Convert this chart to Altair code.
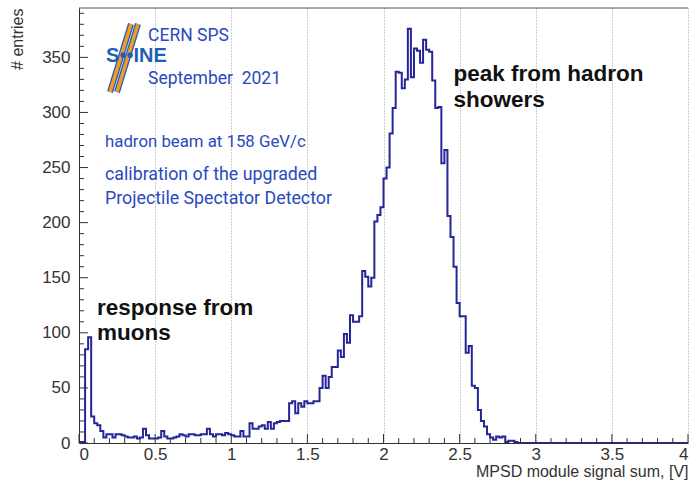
import altair as alt
import pandas as pd

# MPSD module signal sum histogram: 0.02 V bins from 0 to 4 V
bin_width = 0.02
counts = [
    1, 1, 85, 96, 24, 18, 16, 11, 5, 8,
    8, 5, 8, 8, 7, 6, 5, 5, 6, 4,
    5, 13, 7, 4, 4, 4, 5, 11, 6, 4,
    4, 5, 6, 8, 7, 6, 8, 8, 7, 7,
    8, 8, 13, 8, 6, 8, 8, 7, 9, 8,
    7, 6, 6, 11, 6, 6, 18, 13, 13, 15,
    16, 13, 19, 13, 18, 19, 20, 20, 20, 36,
    38, 27, 36, 33, 38, 36, 36, 38, 38, 50,
    61, 50, 60, 69, 69, 84, 78, 99, 91, 116,
    110, 110, 115, 156, 151, 142, 150, 201, 207, 214,
    240, 250, 281, 304, 337, 336, 322, 330, 376, 332,
    358, 356, 345, 366, 357, 355, 329, 304, 305, 254,
    266, 206, 187, 160, 127, 115, 115, 82, 88, 52,
    50, 30, 20, 15, 8, 5, 3, 6, 5, 6,
    1, 2, 2, 1, 0, 0, 0, 0, 0, 0,
    0, 0, 0, 0, 0, 0, 0, 0, 0, 0,
    0, 0, 0, 0, 0, 0, 0, 0, 0, 0,
    0, 0, 0, 0, 0, 0, 0, 0, 0, 0,
    0, 0, 0, 0, 0, 0, 0, 0, 0, 0,
    0, 0, 0, 0, 0, 0, 0, 0, 0, 0,
]

x_major = [0, 0.5, 1, 1.5, 2, 2.5, 3, 3.5, 4]
x_minor = [0.1, 0.2, 0.3, 0.4, 0.6, 0.7, 0.8, 0.9, 1.1, 1.2, 1.3, 1.4,
           1.6, 1.7, 1.8, 1.9, 2.1, 2.2, 2.3, 2.4, 2.6, 2.7, 2.8, 2.9,
           3.1, 3.2, 3.3, 3.4, 3.6, 3.7, 3.8, 3.9]
y_major = [0, 50, 100, 150, 200, 250, 300, 350]
y_minor = [10, 20, 30, 40, 60, 70, 80, 90, 110, 120, 130, 140, 160, 170,
           180, 190, 210, 220, 230, 240, 260, 270, 280, 290, 310, 320, 330,
           340, 360, 370, 380, 390]

W, H = 609, 435
X_MAX = 4.0
Y_MAX = 1.05 * max(counts)

xs = alt.Scale(domain=[0, X_MAX], nice=False, zero=False)
ys = alt.Scale(domain=[0, Y_MAX], nice=False, zero=False)

edges = [i * bin_width for i in range(len(counts) + 1)]
hist_df = pd.DataFrame({"x": edges, "n": counts + [counts[-1]]})

AXIS_FONT = "Liberation Sans"
BLUE_TEXT = "#2a49c0"
LOGO_BLUE = "#1f5fb5"
LOGO_ORANGE = "#f29b28"

base = alt.Chart(hist_df)

hist = base.mark_line(
    interpolate="step-after", color="#25259a", strokeWidth=2, clip=True
).encode(
    x=alt.X(
        "x:Q", scale=xs,
        axis=alt.Axis(
            values=x_major, format="~g", grid=True, gridColor="#9a9a9a",
            gridDash=[1, 2], gridWidth=1, ticks=False, domainColor="#333",
            labelFont=AXIS_FONT, labelFontSize=17, labelColor="#333",
            labelPadding=3, title="MPSD module signal sum, [V]",
            titleFont=AXIS_FONT, titleFontSize=16, titleFontWeight="normal",
            titleColor="#333", titleAnchor="end", titleAlign="right",
            titleX=W, titleY=33, titleBaseline="alphabetic",
        ),
    ),
    y=alt.Y(
        "n:Q", scale=ys,
        axis=alt.Axis(
            values=y_major, grid=False, ticks=False, domainColor="#333",
            labelFont=AXIS_FONT, labelFontSize=17, labelColor="#333",
            labelPadding=9, title="# entries", titleFont=AXIS_FONT,
            titleFontSize=16, titleFontWeight="normal", titleColor="#333",
            titleAnchor="end", titleAngle=-90, titleAlign="right",
            titleX=-57, titleY=0, titleBaseline="alphabetic",
        ),
    ),
)

# inward-pointing ROOT-style ticks
def x_ticks(vals, length):
    df = pd.DataFrame({"x": vals})
    return alt.Chart(df).mark_rule(color="#333", strokeWidth=1).encode(
        x=alt.X("x:Q", scale=xs), y=alt.value(H), y2=alt.value(H - length)
    )

def y_ticks(vals, length):
    df = pd.DataFrame({"y": vals})
    return alt.Chart(df).mark_rule(color="#333", strokeWidth=1).encode(
        y=alt.Y("y:Q", scale=ys), x=alt.value(0), x2=alt.value(length)
    )

frame_top = alt.Chart(pd.DataFrame({"x": [0]})).mark_rule(
    color="#555", strokeWidth=1
).encode(x=alt.value(0), x2=alt.value(W), y=alt.value(0))

# logo stripes: blue edge under an orange band, two parallel slants
def stripe(x_bottom, color, width):
    return alt.Chart(pd.DataFrame({"x": [0]})).mark_rule(
        color=color, strokeWidth=width, strokeCap="butt"
    ).encode(
        x=alt.value(x_bottom), y=alt.value(84),
        x2=alt.value(x_bottom + 21), y2=alt.value(16),
    )

logo = [
    stripe(31, LOGO_BLUE, 6), stripe(31, LOGO_ORANGE, 3.5),
    stripe(38, LOGO_BLUE, 6), stripe(38, LOGO_ORANGE, 3.5),
]

def label(text, x, y, size, color, weight="normal", font="Roboto", align="left"):
    df = pd.DataFrame({"x": [x], "y": [y], "t": [text]})
    return alt.Chart(df).mark_text(
        align=align, baseline="middle", fontSize=size, color=color,
        fontWeight=weight, font=font,
    ).encode(x=alt.X("x:Q", scale=xs), y=alt.Y("y:Q", scale=ys), text="t:N")

notes = [
    label("S\u2022\u2022INE", 0.178, 351, 20, LOGO_BLUE, "bold", "Liberation Sans"),
    label("CERN SPS", 0.454, 369, 17.5, BLUE_TEXT),
    label("September\u00a0\u00a02021", 0.454, 330, 17.5, BLUE_TEXT),
    label("hadron beam at 158 GeV/c", 0.171, 273.6, 16.8, BLUE_TEXT),
    label("calibration of the upgraded", 0.171, 243.6, 17.8, BLUE_TEXT),
    label("Projectile Spectator Detector", 0.171, 221.8, 17.8, BLUE_TEXT),
    label("response from", 0.118, 122.7, 22.5, "#111", "bold", "Liberation Sans"),
    label("muons", 0.118, 100, 22.5, "#111", "bold", "Liberation Sans"),
    label("peak from hadron", 2.46, 334.5, 22.5, "#111", "bold", "Liberation Sans"),
    label("showers", 2.46, 311, 22.5, "#111", "bold", "Liberation Sans"),
]

chart = alt.layer(
    hist,
    x_ticks(x_major, 9), x_ticks(x_minor, 5),
    y_ticks(y_major, 9), y_ticks(y_minor, 5),
    frame_top,
    *logo,
    *notes,
).properties(
    width=W, height=H,
    padding={"left": 79, "top": 8, "right": 2, "bottom": 39},
    autosize=alt.AutoSizeParams(type="none"),
    background="white",
).configure_view(stroke=None)

chart.save("out.html", embed_options={"renderer": "svg", "actions": False})
